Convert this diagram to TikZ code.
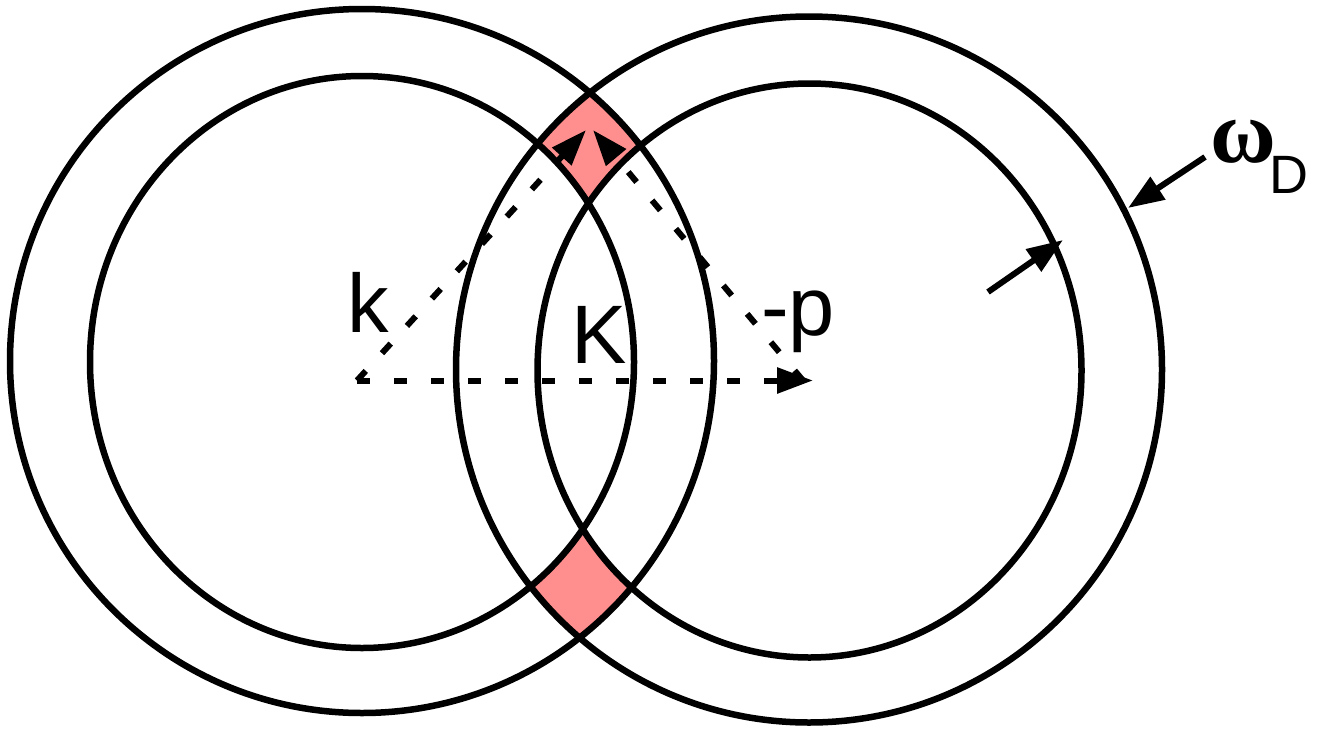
\documentclass[tikz,border=0pt]{standalone}
\usepackage{fontspec}
\setmainfont{Liberation Sans}
\newfontfamily\greekfont{Liberation Serif}
\usetikzlibrary{arrows.meta}
\definecolor{pinkfill}{RGB}{255,143,143}
\begin{document}
\begin{tikzpicture}[x=1pt,y=-1pt,
  ring/.style={line width=6.5pt},
  vec/.style={line width=6pt, dash pattern=on 13pt off 24pt, -{Triangle[length=36pt,width=25pt]}},
  pointer/.style={line width=6pt, -{Triangle[length=36pt,width=26pt]}},
  lbl/.style={font=\fontsize{83}{90}\selectfont, inner sep=0pt, anchor=base}]
\useasboundingbox[fill=white] (0,0) rectangle (1319,728);
% centres
\coordinate (LC) at (362,361);
\coordinate (LIC) at (362,362);
\coordinate (RC) at (809,369.5);
\coordinate (RIC) at (809.5,370.5);
% pink regions
\begin{scope}
\clip (LC) circle[radius=352];
\clip (RC) circle[radius=353];
\fill[pinkfill] (0,0) rectangle (1319,728);
\fill[white] (LIC) circle[x radius=272,y radius=286];
\fill[white] (RIC) circle[x radius=272,y radius=287];
\end{scope}
% rings
\draw[ring] (LC) circle[radius=352];
\draw[ring] (LIC) circle[x radius=272,y radius=286];
\draw[ring] (RC) circle[radius=353];
\draw[ring] (RIC) circle[x radius=272,y radius=287];
% vectors
\coordinate (O) at (357,380.5);
\coordinate (H) at (813,380.5);
\coordinate (Tk) at (586,130);
\coordinate (Pp) at (803,380.5);
\coordinate (Tp) at (593,130);
\draw[vec] (O) -- (H);
\draw[vec] (O) -- (Tk);
\draw[vec] (Pp) -- (Tp);
% omega_D pointers
\coordinate (w1s) at (1205,157);
\coordinate (w1e) at (1128,208);
\coordinate (w2s) at (988,292);
\coordinate (w2e) at (1063,240);
\draw[pointer] (w1s) -- (w1e);
\draw[pointer] (w2s) -- (w2e);
% labels
\node[lbl] (k) at (368.5,332) {k};
\node[lbl] (K) at (599,363) {K};
\node[lbl] (p) at (798,335) {-p};
\node[inner sep=0pt, anchor=base east] (w) at (1309,162)
  {{\greekfont\bfseries\fontsize{90}{96}\selectfont ω}\kern-6pt\raisebox{-31pt}{\fontsize{54}{60}\selectfont D}};
\end{tikzpicture}
\end{document}
